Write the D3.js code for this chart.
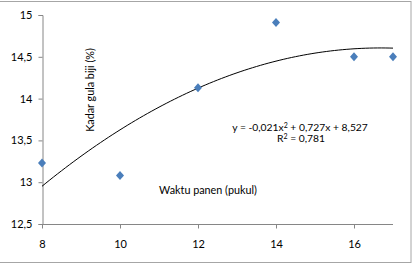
<!DOCTYPE html>
<html>
<head>
<meta charset="utf-8">
<script src="https://cdn.jsdelivr.net/npm/d3@7"></script>
<style>
  body { margin: 0; background: #fff; }
  text { font-family: Lato, "Open Sans", sans-serif; fill: #000; }
</style>
</head>
<body>
<div id="chart"></div>
<script>
// harvest time (hour) vs seed sugar content (%)
var hours = [8, 10, 12, 14, 16, 17];
var sugar = [13.23, 13.08, 14.13, 14.91, 14.5, 14.5];
var xTicks = [8, 10, 12, 14, 16];
var yTicks = [12.5, 13, 13.5, 14, 14.5, 15];

var width = 413, height = 266;
var svg = d3.select("#chart").append("svg")
  .attr("width", width)
  .attr("height", height);

// outer frame
svg.append("rect")
  .attr("x", -1).attr("y", 1.5)
  .attr("width", 412).attr("height", 261)
  .attr("fill", "none")
  .attr("stroke", "#a6a6a6")
  .attr("stroke-width", 1);

var x = d3.scaleLinear().domain([8, 17]).range([42, 393]);
var y = d3.scaleLinear().domain([12.5, 15]).range([224, 15]);

var fmt = function(d){ return String(d).replace(".", ","); };

var yAxis = svg.append("g")
  .attr("transform", "translate(42.5,0)")
  .call(d3.axisLeft(y).tickValues(yTicks).tickFormat(fmt).tickSize(4).tickPadding(6));
var xAxis = svg.append("g")
  .attr("transform", "translate(0,224.5)")
  .call(d3.axisBottom(x).tickValues(xTicks).tickFormat(fmt).tickSize(4).tickPadding(12));

[yAxis, xAxis].forEach(function(g){
  g.select(".domain").attr("stroke", "#868686");
  g.selectAll(".tick line").attr("stroke", "#868686");
  g.selectAll(".tick text").attr("font-size", 11).attr("font-family", "Lato, sans-serif");
});
// x axis line continues to the plot edge
xAxis.select(".domain").attr("d", "M42,0H393");

// quadratic least-squares trendline from the points
function polyfit2(xs, ys){
  var n = xs.length, S = [0,0,0,0,0], T = [0,0,0];
  for(var i = 0; i < n; i++){
    for(var k = 0; k < 5; k++) S[k] += Math.pow(xs[i], k);
    for(var k = 0; k < 3; k++) T[k] += ys[i] * Math.pow(xs[i], k);
  }
  var A = [[S[0],S[1],S[2],T[0]],[S[1],S[2],S[3],T[1]],[S[2],S[3],S[4],T[2]]];
  for(var c = 0; c < 3; c++){
    for(var r = c + 1; r < 3; r++){
      var f = A[r][c] / A[c][c];
      for(var j = c; j < 4; j++) A[r][j] -= f * A[c][j];
    }
  }
  var coef = [0,0,0];
  for(var r = 2; r >= 0; r--){
    var s = A[r][3];
    for(var j = r + 1; j < 3; j++) s -= A[r][j] * coef[j];
    coef[r] = s / A[r][r];
  }
  return coef;
}
var coef = polyfit2(hours, sugar);
var trend = d3.range(8, 17.001, 0.1).map(function(t){
  return [t, coef[0] + coef[1]*t + coef[2]*t*t];
});
svg.append("path")
  .datum(trend)
  .attr("fill", "none")
  .attr("stroke", "#000")
  .attr("stroke-width", 1)
  .attr("d", d3.line().x(function(d){ return x(d[0]); }).y(function(d){ return y(d[1]); }));

// diamond markers
svg.selectAll(".pt")
  .data(hours)
  .enter().append("path")
  .attr("class", "pt")
  .attr("transform", function(d, i){ return "translate(" + x(d) + "," + y(sugar[i]) + ")"; })
  .attr("d", "M0,-4.5L4,0L0,4.5L-4,0Z")
  .attr("fill", "#4a7ebb");

// labels placed inside plot like the original
svg.append("text")
  .attr("transform", "translate(94,90) rotate(-90)")
  .attr("text-anchor", "middle")
  .attr("font-size", 10.8)
  .text("Kadar gula biji (%)");

svg.append("text")
  .attr("x", 208).attr("y", 194)
  .attr("text-anchor", "middle")
  .attr("font-size", 10.8)
  .text("Waktu panen (pukul)");

var eq = svg.append("text")
  .attr("x", 300).attr("y", 131)
  .attr("text-anchor", "middle")
  .attr("font-size", 10.3);
eq.append("tspan").text("y = -0,021x");
eq.append("tspan").attr("font-size", 7).attr("dy", -3).text("2");
eq.append("tspan").attr("dy", 3).text(" + 0,727x + 8,527");

var r2 = svg.append("text")
  .attr("x", 301).attr("y", 142)
  .attr("text-anchor", "middle")
  .attr("font-size", 10.3);
r2.append("tspan").text("R");
r2.append("tspan").attr("font-size", 7).attr("dy", -3).text("2");
r2.append("tspan").attr("dy", 3).text(" = 0,781");
</script>
</body>
</html>
